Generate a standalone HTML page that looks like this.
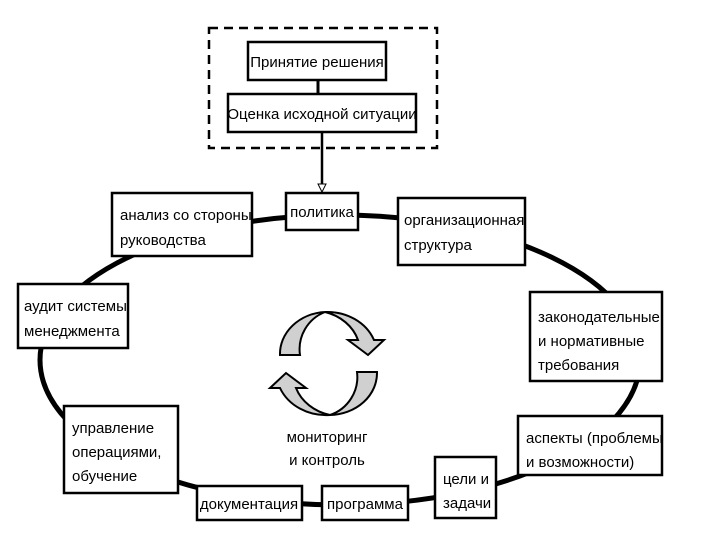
<!DOCTYPE html>
<html><head><meta charset="utf-8"><style>
body{margin:0;background:#fff}
svg text{font-family:"Liberation Sans Narrow","Liberation Sans",sans-serif;font-size:15px;fill:#000}
</style></head><body>
<svg width="720" height="540" viewBox="0 0 720 540" xmlns="http://www.w3.org/2000/svg">
<rect x="209" y="28" width="228" height="120" fill="none" stroke="#000" stroke-width="2.5" stroke-dasharray="9,6"/>
<line x1="318" y1="80" x2="318" y2="94" stroke="#000" stroke-width="3"/>
<line x1="322" y1="132" x2="322" y2="190" stroke="#000" stroke-width="2.5"/>
<polygon points="318,184 326,184 322,192" fill="#fff" stroke="#000" stroke-width="1"/>
<ellipse cx="340" cy="360" rx="300" ry="145" fill="none" stroke="#000" stroke-width="5"/>
<g fill="#fff" stroke="#000" stroke-width="2.5">
<rect x="248" y="42" width="138" height="38"/>
<rect x="228" y="94" width="188" height="38"/>
<rect x="286" y="193" width="72" height="37"/>
<rect x="112" y="193" width="140" height="63"/>
<rect x="398" y="198" width="127" height="67"/>
<rect x="18" y="284" width="110" height="64"/>
<rect x="530" y="292" width="132" height="89"/>
<rect x="64" y="406" width="114" height="87"/>
<rect x="518" y="416" width="144" height="59"/>
<rect x="435" y="457" width="61" height="61"/>
<rect x="197" y="486" width="105" height="34"/>
<rect x="322" y="486" width="86" height="34"/>
</g>
<text x="317" y="67" text-anchor="middle">Принятие решения</text>
<text x="322" y="119" text-anchor="middle">Оценка исходной ситуации</text>
<text x="322" y="217" text-anchor="middle">политика</text>
<text x="120" y="220">анализ со стороны</text>
<text x="120" y="245">руководства</text>
<text x="404" y="225">организационная</text>
<text x="404" y="250">структура</text>
<text x="24" y="311">аудит системы</text>
<text x="24" y="336">менеджмента</text>
<text x="538" y="322">законодательные</text>
<text x="538" y="346">и нормативные</text>
<text x="538" y="370">требования</text>
<text x="72" y="433">управление</text>
<text x="72" y="457">операциями,</text>
<text x="72" y="481">обучение</text>
<text x="526" y="443">аспекты (проблемы</text>
<text x="526" y="467">и возможности)</text>
<text x="443" y="484">цели и</text>
<text x="443" y="508">задачи</text>
<text x="249" y="509" text-anchor="middle">документация</text>
<text x="365" y="509" text-anchor="middle">программа</text>
<text x="327" y="442" text-anchor="middle">мониторинг</text>
<text x="327" y="465" text-anchor="middle">и контроль</text>
<!-- upper cycle arrow -->
<path d="M280,355 A48,42 0 0 1 325,312 A48,42 0 0 1 358,340 L348,340 L368,355 L384,340 L374,340 A50,44 0 0 0 325,312 A40,40 0 0 0 300,355 Z" fill="#d0d0d0" stroke="#000" stroke-width="2"/>
<!-- lower cycle arrow -->
<path d="M377,372 A48,42 0 0 1 330,415 A48,42 0 0 1 296,388 L306,388 L286,373 L270,388 L280,388 A50,44 0 0 0 330,415 A40,40 0 0 0 357,372 Z" fill="#d0d0d0" stroke="#000" stroke-width="2"/>
</svg>
</body></html>
